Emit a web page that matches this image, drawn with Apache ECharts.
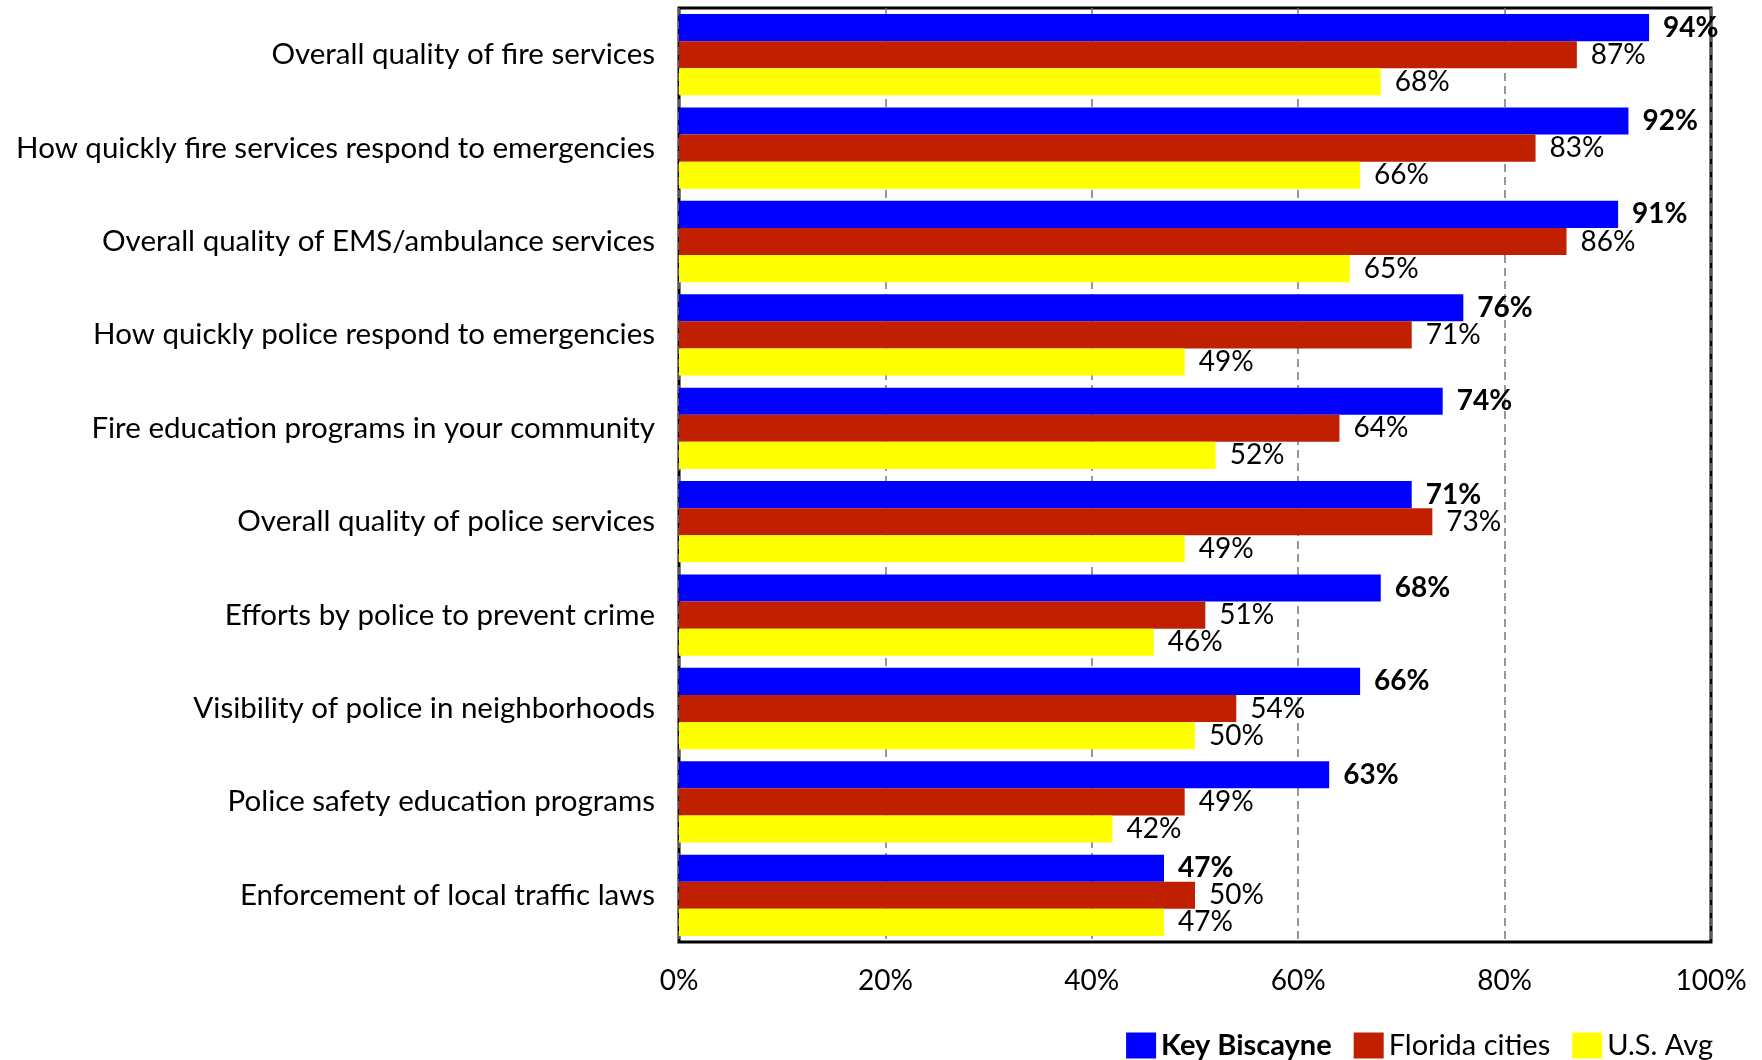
<!DOCTYPE html>
<html>
<head>
<meta charset="utf-8">
<script src="https://cdn.jsdelivr.net/npm/echarts@6/dist/echarts.min.js"></script>
<style>
  html, body { margin: 0; padding: 0; background: #fff; }
  #chart { width: 1762px; height: 1060px; }
</style>
</head>
<body>
<div id="chart"></div>
<script>
// Service ratings (percent positive), one array per comparison group
const categories = [
  'Overall quality of fire services',
  'How quickly fire services respond to emergencies',
  'Overall quality of EMS/ambulance services',
  'How quickly police respond to emergencies',
  'Fire education programs in your community',
  'Overall quality of police services',
  'Efforts by police to prevent crime',
  'Visibility of police in neighborhoods',
  'Police safety education programs',
  'Enforcement of local traffic laws'
];
const keyBiscayne = [94, 92, 91, 76, 74, 71, 68, 66, 63, 47];
const floridaCities = [87, 83, 86, 71, 64, 73, 51, 54, 49, 50];
const usAvg = [68, 66, 65, 49, 52, 49, 46, 50, 42, 47];
const seriesNames = ['Key Biscayne', 'Florida cities', 'U.S. Avg'];
const xTicks = [0, 20, 40, 60, 80, 100];

const FONT = 'Lato';
const colors = ['#0000FF', '#C02000', '#FFFF00'];

function barSeries(name, data, color, bold) {
  return {
    name: name,
    type: 'bar',
    data: data,
    barGap: '0%',
    barCategoryGap: '13%',
    itemStyle: { color: color },
    label: {
      show: true,
      position: 'right',
      distance: 14,
      formatter: '{c}%',
      fontFamily: FONT,
      fontSize: 28,
      fontWeight: bold ? 'bold' : 'normal',
      color: '#000'
    }
  };
}

const chart = echarts.init(document.getElementById('chart'), null, { renderer: 'canvas' });
chart.setOption({
  animation: false,
  backgroundColor: '#fff',
  grid: {
    left: 679, right: 51, top: 8, bottom: 118,
    show: true, borderColor: '#000', borderWidth: 3, backgroundColor: 'transparent'
  },
  xAxis: {
    type: 'value',
    min: xTicks[0],
    max: xTicks[xTicks.length - 1],
    interval: 20,
    axisLine: { show: false },
    axisTick: { show: false },
    axisLabel: {
      formatter: '{value}%', fontFamily: FONT, fontSize: 28, color: '#000', margin: 25
    },
    splitLine: {
      show: true,
      lineStyle: { color: '#777', width: 1.5, type: [8, 5] }
    }
  },
  yAxis: {
    type: 'category',
    data: categories,
    inverse: true,
    axisLine: { show: false },
    axisTick: { show: false },
    axisLabel: { fontFamily: FONT, fontSize: 29.5, color: '#000', margin: 24 }
  },
  legend: {
    right: 44,
    top: 1026,
    itemWidth: 30,
    itemHeight: 26,
    itemGap: 22,
    icon: 'rect',
    textStyle: { fontFamily: FONT, fontSize: 29, color: '#000' },
    data: [
      { name: seriesNames[0], textStyle: { fontWeight: 'bold' } },
      { name: seriesNames[1] },
      { name: seriesNames[2] }
    ]
  },
  series: [
    barSeries(seriesNames[0], keyBiscayne, colors[0], true),
    barSeries(seriesNames[1], floridaCities, colors[1], false),
    barSeries(seriesNames[2], usAvg, colors[2], false)
  ]
});
</script>
</body>
</html>
